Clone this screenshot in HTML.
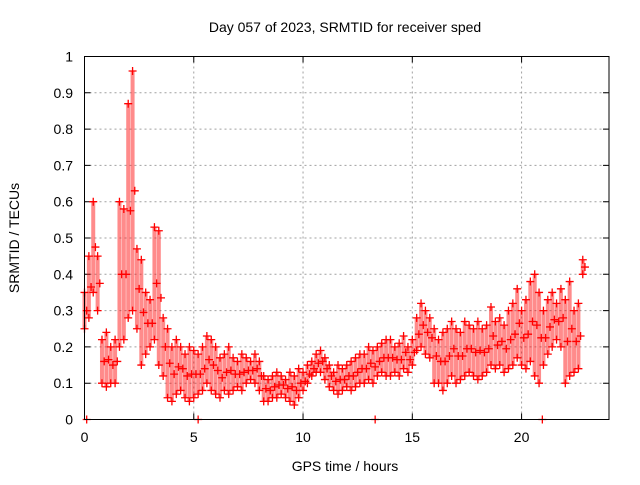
<!DOCTYPE html>
<html><head><meta charset="utf-8"><style>
body{margin:0;background:#fff;width:640px;height:480px;overflow:hidden}
text{font-family:"Liberation Sans",sans-serif;font-size:14px;fill:#000}
</style></head><body>
<svg id="chart" width="640" height="480">
<text x="345" y="32" text-anchor="middle">Day 057 of 2023, SRMTID for receiver sped</text>
<text x="345" y="471" text-anchor="middle">GPS time / hours</text>
<text transform="translate(19,238) rotate(-90)" text-anchor="middle">SRMTID / TECUs</text>
<g id="grid"></g><g id="ticks"></g><g id="marks"></g>
<rect x="84.5" y="56.5" width="524.5" height="363" fill="none" stroke="#000" stroke-width="1"/>
</svg>
<script>
const xTicks=[0,5,10,15,20];
const yTicks=[0,0.1,0.2,0.3,0.4,0.5,0.6,0.7,0.8,0.9,1];
const yTickLabels=["0","0.1","0.2","0.3","0.4","0.5","0.6","0.7","0.8","0.9","1"];
const tStart=0, tStep=0.2;
const hiVals=[0.35,0.45,0.6,0.45,0.22,0.24,0.2,0.22,0.6,0.58,0.87,0.96,0.47,0.44,0.35,0.33,0.53,0.52,0.28,0.25,
0.2,0.22,0.2,0.18,0.2,0.19,0.18,0.2,0.23,0.22,0.2,0.17,0.18,0.2,0.17,0.16,0.18,0.17,0.16,0.18,
0.16,0.12,0.11,0.12,0.13,0.12,0.11,0.13,0.12,0.14,0.13,0.15,0.16,0.18,0.19,0.17,0.15,0.13,0.15,0.14,
0.15,0.16,0.17,0.18,0.18,0.2,0.19,0.2,0.21,0.22,0.22,0.2,0.21,0.23,0.2,0.22,0.28,0.32,0.3,0.28,
0.25,0.22,0.24,0.25,0.27,0.25,0.24,0.27,0.26,0.25,0.27,0.25,0.26,0.31,0.27,0.28,0.26,0.3,0.32,0.36,
0.3,0.33,0.38,0.4,0.35,0.3,0.33,0.35,0.32,0.36,0.33,0.38,0.3,0.32,0.44];
const loVals=[0.25,0.28,0.35,0.3,0.1,0.09,0.1,0.1,0.2,0.22,0.28,0.3,0.25,0.15,0.18,0.2,0.22,0.15,0.12,0.06,
0.05,0.07,0.08,0.06,0.05,0.06,0.07,0.08,0.1,0.08,0.07,0.06,0.08,0.07,0.08,0.09,0.08,0.1,0.11,0.1,
0.08,0.05,0.05,0.06,0.06,0.07,0.06,0.05,0.04,0.06,0.08,0.1,0.12,0.13,0.13,0.11,0.09,0.08,0.07,0.08,
0.09,0.08,0.09,0.1,0.1,0.11,0.1,0.12,0.13,0.12,0.12,0.13,0.12,0.14,0.13,0.15,0.19,0.2,0.18,0.17,
0.1,0.1,0.08,0.1,0.12,0.1,0.11,0.12,0.13,0.12,0.11,0.12,0.13,0.15,0.14,0.15,0.13,0.14,0.15,0.17,
0.15,0.14,0.16,0.12,0.1,0.15,0.18,0.2,0.22,0.2,0.1,0.12,0.13,0.14,0.4];
const zeroTimes=[0.1,5.2,13.3,20.95];
const X0=84.5,X1=609,Y0=419.5,Y1=56.5,XMAX=24;
const xs=t=>X0+(X1-X0)*t/XMAX, ys=v=>Y0-(Y0-Y1)*v;
const NS='http://www.w3.org/2000/svg';
const mk=(tag,at,par)=>{const e=document.createElementNS(NS,tag);for(const k in at)e.setAttribute(k,at[k]);par.appendChild(e);return e;};
const grid=document.getElementById('grid'),ticks=document.getElementById('ticks'),marks=document.getElementById('marks');
xTicks.forEach(t=>{const x=xs(t);
 if(t>0){const g=mk('line',{x1:x,x2:x,y1:Y1,y2:Y0,stroke:'#a0a0a0','stroke-dasharray':'2,3'},grid);
 
 }
 const tk=mk('path',{d:`M${x},${Y0}v-6M${x},${Y1}v6`,stroke:'#000'},ticks);
 
 
 const l=mk('text',{x:x,y:442,'text-anchor':'middle'},ticks);l.textContent=t;
 
 });
yTicks.forEach((v,i)=>{const y=ys(v);
 if(v>0&&v<1){const g=mk('line',{x1:X0,x2:X1,y1:y,y2:y,stroke:'#a0a0a0','stroke-dasharray':'2,3'},grid);
 
 }
 const tk=mk('path',{d:`M${X0},${y}h6M${X1},${y}h-6`,stroke:'#000'},ticks);
 
 
 const l=mk('text',{x:73,y:y+5,'text-anchor':'end'},ticks);l.textContent=yTickLabels[i];
 
 });
function plus(t,v,name){const x=xs(t),y=ys(v);
 const p=mk('path',{d:`M${x-4},${y}h8M${x},${y-4}v8`,stroke:'#f00','stroke-width':1.3},marks);
 
 }
hiVals.forEach((v,i)=>{const t=tStart+i*tStep,lo=loVals[i];
 const b=mk('line',{x1:xs(t),x2:xs(t),y1:ys(v),y2:ys(lo),stroke:'#f00','stroke-width':4,opacity:0.45},marks);
 
 
 plus(t,v,'point-high');plus(t,lo,'point-low');
 plus(t+0.1,(v+lo)/2,'point-mid');});
zeroTimes.forEach(t=>plus(t,0,'point-zero'));
</script>
</body></html>
